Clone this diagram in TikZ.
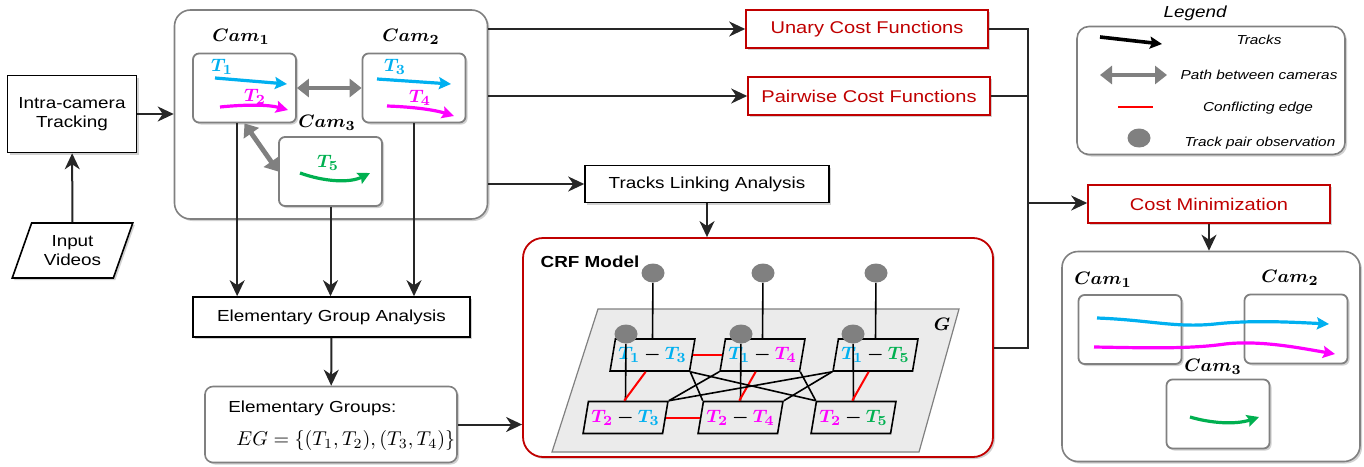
\documentclass[tikz,border=0pt]{standalone}
\usepackage{amsmath,bm}
\usepackage[no-math]{fontspec}
\setmainfont[FakeStretch=1.18]{Liberation Sans}
\usepackage{tikz}
\usetikzlibrary{calc,positioning,arrows.meta,shapes.geometric,shadows}
\definecolor{trackcyan}{RGB}{0,176,240}
\definecolor{trackpink}{RGB}{255,0,255}
\definecolor{trackgreen}{RGB}{0,176,80}
\definecolor{costred}{RGB}{192,0,0}
\definecolor{edgegray}{RGB}{128,128,128}
\definecolor{planegray}{RGB}{235,235,235}
\newcommand{\mainsize}{\fontsize{8}{9.6}\selectfont}
\newcommand{\costsize}{\fontsize{8.5}{10}\selectfont}
\newcommand{\legsize}{\fontsize{6.5}{8}\selectfont}
\newcommand{\camsize}{\fontsize{9.5}{11}\selectfont}
\newcommand{\pairlab}[4]{$\textcolor{#1}{\bm{T_{#2}}}\bm{-}\textcolor{#3}{\bm{T_{#4}}}$}
\tikzset{
>={Stealth[length=8pt,width=7.5pt,inset=2.5pt]},
  softshadow/.style={drop shadow={shadow xshift=1pt, shadow yshift=-1pt,
    opacity=0.18, fill=black}},
  flow/.style={draw=black!85, line width=1pt, ->},
  plain/.style={draw=black!85, line width=1pt},
  procbox/.style={
    rectangle,
    draw=black, line width=0.8pt,
    fill=white,
    minimum height=19pt,
    text centered,
    font=\mainsize,
    softshadow},
  costbox/.style={procbox, draw=costred, text=costred, font=\costsize,
    minimum width=121pt},
  databox/.style={procbox, trapezium, trapezium left angle=67,
    trapezium right angle=113, trapezium stretches=true,
    minimum width=60.5pt, minimum height=27.5pt, align=center, inner sep=1pt},
  roundbox/.style={rectangle, rounded corners=8pt, draw=edgegray,
    line width=0.8pt, fill=white, softshadow},
  cambox/.style={rectangle, rounded corners=3pt, draw=edgegray,
    line width=0.9pt, fill=white, minimum width=51.5pt,
    minimum height=34.5pt, softshadow},
  crfbox/.style={rectangle, rounded corners=10pt, draw=costred,
    line width=0.9pt, fill=white, softshadow},
  camlabel/.style={font=\camsize, inner sep=1pt},
  track/.style={line width=1.6pt, -{Stealth[length=6pt,width=6pt,inset=1pt]}},
  linkpath/.style={draw=edgegray, line width=2.4pt,
    {Stealth[length=6pt,width=9pt,inset=0pt]}-{Stealth[length=6pt,width=9pt,inset=0pt]}},
  pairnode/.style={trapezium, trapezium left angle=72,
    trapezium right angle=108, trapezium stretches=true,
    draw=black, line width=0.8pt, minimum width=42.5pt,
    minimum height=16pt, inner sep=0pt, font=\camsize},
  obsnode/.style={ellipse, fill=edgegray, minimum width=11.5pt,
    minimum height=9.5pt, inner sep=0pt},
  conflict/.style={draw=red, line width=1pt},
  crfedge/.style={draw=black, line width=0.8pt},
  legtext/.style={font=\legsize\itshape},
}
\begin{document}
\begin{tikzpicture}[x=0.5pt, y=-0.5pt]
\useasboundingbox (0,0) rectangle (1364,466);

% input and intra-camera tracking
\node[procbox, minimum width=64.5pt, minimum height=38.5pt, align=center]
  (intra) at (72,114) {Intra-camera\\Tracking};
\node[databox] (input) at (72.5,250.5) {Input\\Videos};
\draw[flow] (input) -- (intra);

% camera network
\node[roundbox, minimum width=156.5pt, minimum height=104.5pt] (camsys) at (331,114.5) {};
\draw[flow] (intra.east) -- (intra.east -| camsys.west);
\node[cambox] (cam1) at (244.5,88) {};
\node[cambox] (cam2) at (414,88) {};
\node[cambox] (cam3) at (330.5,171.5) {};
\node[camlabel] (cam1-lab) at (241,37) {$\bm{Cam_1}$};
\node[camlabel] (cam2-lab) at (411,37) {$\bm{Cam_2}$};
\node[camlabel] (cam3-lab) at (327,123) {$\bm{Cam_3}$};
\node[camlabel, text=trackcyan] (t1-lab) at (222,67) {$\bm{T_1}$};
\node[camlabel, text=trackpink] (t2-lab) at (255,97) {$\bm{T_2}$};
\node[camlabel, text=trackcyan] (t3-lab) at (395,67) {$\bm{T_3}$};
\node[camlabel, text=trackpink] (t4-lab) at (420,98) {$\bm{T_4}$};
\node[camlabel, text=trackgreen] (t5-lab) at (328,163) {$\bm{T_5}$};
\draw[track, trackcyan] (215,78) -- (287,84);
\draw[track, trackpink] (220,107) .. controls (250,104) and (270,105) .. (288,110);
\draw[track, trackcyan] (377,79) -- (451,84);
\draw[track, trackpink] (387,106) .. controls (415,107) and (435,110) .. (454,116);
\draw[track, trackgreen] (300,173) .. controls (325,182) and (350,183) .. (370,173);
\draw[linkpath] (cam1.east) -- (cam2.west);
\draw[linkpath] (cam1.south) -- (cam3.west);

% elementary groups
\node[procbox, minimum width=138.5pt, minimum height=20pt] (ega) at (331.5,317) {Elementary Group Analysis};
\draw[flow] ($(cam1.south west)!0.43!(cam1.south east)$) coordinate (cam1-foot)
  -- (cam1-foot |- ega.north);
\draw[flow] (cam3.south) -- (cam3.south |- ega.north);
\draw[flow] (cam2.south) -- (cam2.south |- ega.north);
\node[roundbox, rounded corners=4pt, minimum width=126pt, minimum height=38pt] (eg) at (331,424.5) {};
\node[font=\mainsize, anchor=west, inner sep=0pt] (eg-title) at (228,408) {Elementary Groups:};
\node[font=\fontsize{10}{12}\selectfont, anchor=west, inner sep=0pt] (eg-set) at (236,440)
  {$EG=\{(T_1,T_2),(T_3,T_4)\}$};
\draw[flow] (ega) -- (eg);

% cost functions and linking
\node[costbox] (unary) at (867,29) {Unary Cost Functions};
\node[costbox] (pairwise) at (869,96) {Pairwise Cost Functions};
\node[procbox, minimum width=122pt, minimum height=18.5pt] (linking) at (707,184) {Tracks Linking Analysis};
\draw[flow] (camsys.east |- unary.west) -- (unary.west);
\draw[flow] (camsys.east |- pairwise.west) -- (pairwise.west);
\draw[flow] (camsys.east |- linking.west) -- (linking.west);

% CRF model
\node[crfbox, minimum width=235pt, minimum height=109.5pt] (crf) at (758,347.5) {};
\draw[flow] (linking.south) -- (linking.south |- crf.north);
\draw[flow] (eg.east) -- (eg.east -| crf.west);
\node[font=\bfseries\mainsize] (crf-lab) at (590,262) {CRF Model};
\filldraw[fill=planegray, draw=edgegray, line width=0.6pt]
  (598,309) -- (959,309) -- (919,452) -- (552,452) -- cycle;
\node[camlabel] (g-lab) at (942,324) {$\bm{G}$};
\node[pairnode] (p13) at (652.5,355) {\pairlab{trackcyan}{1}{trackcyan}{3}};
\node[pairnode] (p14) at (762.5,355) {\pairlab{trackcyan}{1}{trackpink}{4}};
\node[pairnode] (p15) at (875.5,355) {\pairlab{trackcyan}{1}{trackgreen}{5}};
\node[pairnode] (p23) at (625.5,417.5) {\pairlab{trackpink}{2}{trackcyan}{3}};
\node[pairnode] (p24) at (740.5,417.5) {\pairlab{trackpink}{2}{trackpink}{4}};
\node[pairnode] (p25) at (853.5,417.5) {\pairlab{trackpink}{2}{trackgreen}{5}};
\foreach \n/\x in {13/653,14/763,15/876}{
  \node[obsnode] (o\n) at (\x,273) {};
  \draw[crfedge] (o\n) -- (p\n.north);
}
\foreach \n/\x in {23/626,24/741,25/853}{
  \node[obsnode] (o\n) at (\x,334) {};
  \draw[crfedge] (o\n) -- (p\n.north);
}
\draw[conflict] (p13.east) -- (p14.west);
\draw[conflict] (p23.east) -- (p24.west);
\foreach \a/\b in {13/23,14/24,15/25}
  \draw[conflict] ($(p\a.bottom left corner)!0.45!(p\a.bottom right corner)$)
    -- ($(p\b.top left corner)!0.45!(p\b.top right corner)$);
\foreach \a/\b in {13/24,13/25,14/25}
  \draw[crfedge] (p\a.bottom right corner) -- (p\b.top left corner);
\foreach \a/\b in {14/23,15/23,15/24}
  \draw[crfedge] (p\a.bottom left corner) -- (p\b.top right corner);

% cost minimization
\coordinate (merge) at (1028,203);
\draw[plain] (unary.east) -| (merge);
\draw[plain] (pairwise.east) -| (merge);
\draw[plain] (crf.east) -| (merge);
\node[costbox] (costmin) at (1209,204) {Cost Minimization};
\draw[flow] (merge) -- (merge -| costmin.west);

% result
\node[roundbox, minimum width=149pt, minimum height=105pt] (result) at (1211,356.5) {};
\draw[flow] (costmin.south) -- (costmin.south |- result.north);
\node[cambox] (rcam1) at (1130,329.5) {};
\node[cambox] (rcam2) at (1296,329) {};
\node[cambox] (rcam3) at (1218,414) {};
\node[camlabel] (rcam1-lab) at (1103,280) {$\bm{Cam_1}$};
\node[camlabel] (rcam2-lab) at (1290,278) {$\bm{Cam_2}$};
\node[camlabel] (rcam3-lab) at (1213,367) {$\bm{Cam_3}$};
\draw[track, trackcyan] (1097,318) .. controls (1150,320) and (1175,328) .. (1215,324)
  .. controls (1250,320) and (1290,322) .. (1329,324);
\draw[track, trackpink] (1094,347) .. controls (1150,348) and (1190,349) .. (1225,344)
  .. controls (1260,340) and (1300,348) .. (1335,354);
\draw[track, trackgreen] (1190,417) .. controls (1210,423) and (1235,425) .. (1259,417);

% legend
\node[font=\mainsize\itshape] (leg-title) at (1195,13) {Legend};
\node[roundbox, rounded corners=6pt, minimum width=134pt, minimum height=64pt] (legend) at (1211,90.5) {};
\node[legtext] (leg-tracks) at (1259,40) {Tracks};
\node[legtext] (leg-path) at (1259,75) {Path between cameras};
\node[legtext] (leg-conf) at (1258,108) {Conflicting edge};
\node[legtext] (leg-obs) at (1260,143) {Track pair observation};
\draw[track, black, line width=1.8pt] (1100,37) -- (1162,44);
\draw[linkpath] (1100,75) -- (1167,75);
\draw[conflict] (1118,107) -- (1153,107);
\node[obsnode] (leg-dot) at (1139,138) {};
\end{tikzpicture}
\end{document}
